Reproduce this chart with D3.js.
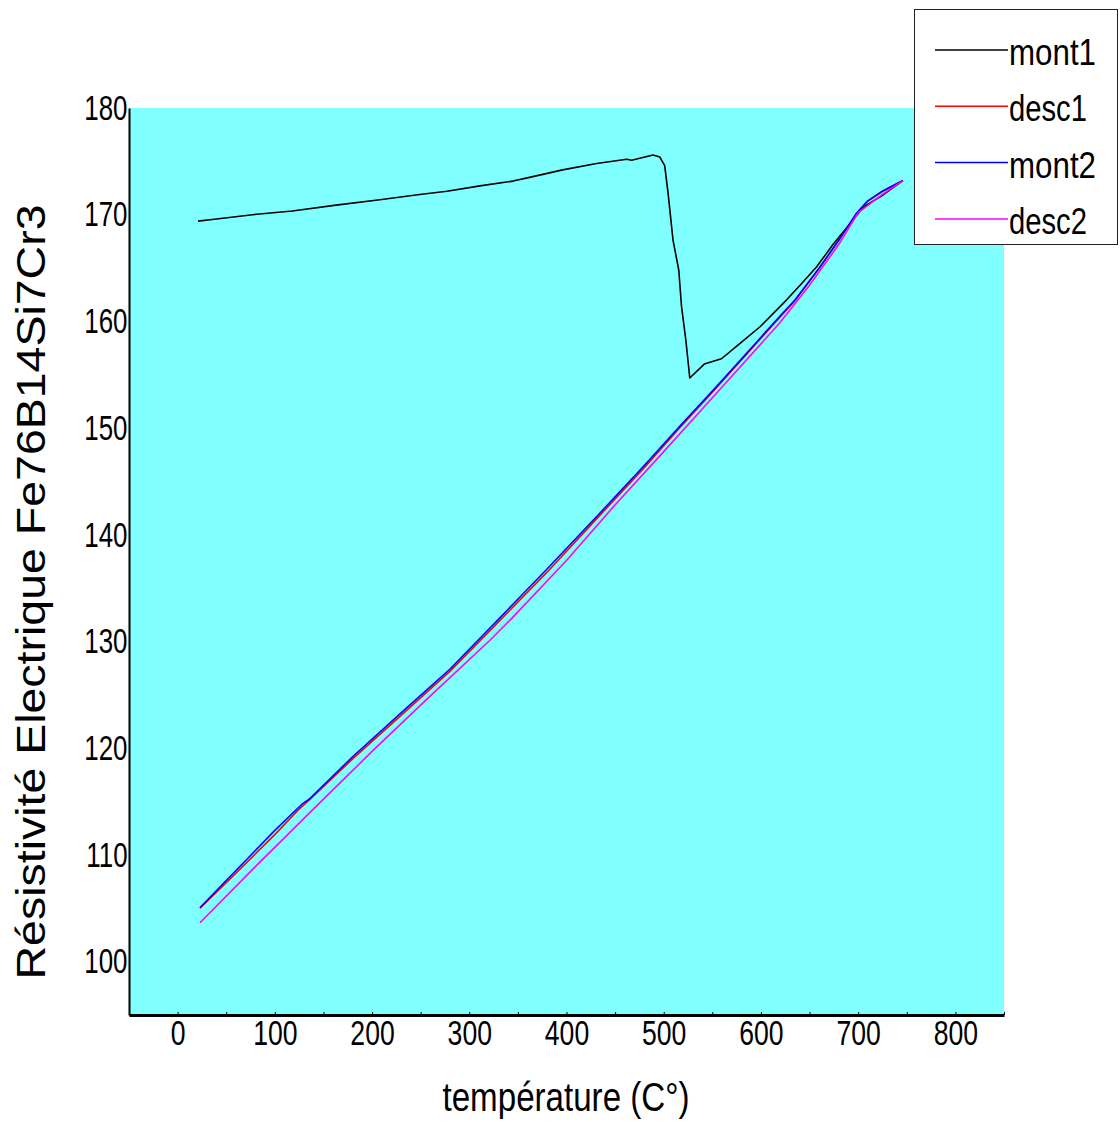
<!DOCTYPE html>
<html>
<head>
<meta charset="utf-8">
<script src="https://cdn.jsdelivr.net/npm/d3@7"></script>
<style>
    body { margin: 0; background: #fff; }
    svg { display: block; }
    text { font-family: "Liberation Sans", Arial, sans-serif; fill: #000; }
</style>
</head>
<body>
<div class="graph"></div>
<script>
"use strict";

// temperature (C) / resistivity readings for each run
var mont1T = [21, 40, 77, 118, 163, 208, 249, 277, 311, 345, 362, 396, 431, 462, 467, 489, 496, 501,
    504.5, 509.6, 515.5, 518.3, 522.7, 526.8, 541.7, 559.4, 578.5, 599.1, 626.2, 643.3, 657.1, 674.1,
    694.7, 701.6, 708.5, 725.6, 746];
var mont1R = [169.4, 169.6, 170.0, 170.35, 170.9, 171.4, 171.9, 172.2, 172.7, 173.15, 173.5, 174.2,
    174.8, 175.2, 175.1, 175.6, 175.4, 174.6, 172.0, 167.6, 164.8, 161.4, 158.3, 154.7, 156.0, 156.5,
    157.95, 159.5, 162.0, 163.7, 165.1, 167.2, 169.5, 170.3, 170.9, 171.85, 173.2];

var desc1T = [23, 50, 100, 125, 135, 180, 235, 280, 321, 380, 434, 480, 516, 551, 585, 619, 635, 660, 680, 699, 710, 725, 746];
var desc1R = [105.0, 107.4, 111.9, 114.3, 115.1, 119.0, 123.5, 127.2, 131.0, 136.5, 141.8, 146.3, 150.0, 153.45, 156.9,
    160.35, 161.95, 165.0, 167.6, 170.2, 171.3, 172.2, 173.2];

var mont2T = [23, 50, 100, 129, 135, 180, 235, 280, 321, 330, 380, 434, 480, 516, 551, 585, 619, 635, 660, 680, 698, 710, 725, 746];
var mont2R = [105.05, 107.6, 112.3, 114.84, 115.2, 119.2, 123.74, 127.4, 131.24, 132.08, 136.8, 142.0, 146.5, 150.13, 153.57,
    157.0, 160.44, 162.0, 165.0, 167.6, 170.1, 171.3, 172.2, 173.2];

var desc2T = [23, 80, 143, 200, 260, 321, 343, 400, 448, 500, 551, 619, 650, 680, 700, 725, 746];
var desc2R = [103.65, 108.9, 114.6, 119.7, 124.9, 130.1, 132.1, 137.6, 142.6, 147.8, 152.94, 159.82, 163.4, 167.2, 170.2, 171.9, 173.2];

var seriesNames = ["mont1", "desc1", "mont2", "desc2"];
var seriesColors = ["#000000", "#ff0000", "#0000ff", "#ff00ff"];

var xTicks = [-50, 0, 50, 100, 150, 200, 250, 300, 350, 400, 450, 500, 550, 600, 650, 700, 750, 800, 850];
var xLabels = [0, 100, 200, 300, 400, 500, 600, 700, 800];
var yTicks = [100, 110, 120, 130, 140, 150, 160, 170, 180];

var series = [[mont1T, mont1R], [desc1T, desc1R], [mont2T, mont2R], [desc2T, desc2R]].map(function (s, i) {
    return {
        name: seriesNames[i],
        color: seriesColors[i],
        points: s[0].map(function (t, j) { return [t, s[1][j]]; })
    };
});

var W = 1120, H = 1122;
var svg = d3.select(".graph").append("svg").attr("width", W).attr("height", H);

var x = d3.scaleLinear().domain([-50, 850]).range([129, 1004]);
var y = d3.scaleLinear().domain([95, 180]).range([1015, 108]);

svg.append("rect")
    .attr("x", x(-50)).attr("y", y(180))
    .attr("width", x(850) - x(-50)).attr("height", y(95) - y(180))
    .attr("fill", "#80ffff");

svg.append("clipPath").attr("id", "plot").append("rect")
    .attr("x", x(-50)).attr("y", y(180))
    .attr("width", x(850) - x(-50)).attr("height", y(95) - y(180));

var line = d3.line().x(function (d) { return x(d[0]); }).y(function (d) { return y(d[1]); });

svg.append("g").attr("clip-path", "url(#plot)")
    .selectAll("path").data(series).enter().append("path")
    .attr("d", function (d) { return line(d.points); })
    .attr("fill", "none")
    .attr("stroke", function (d) { return d.color; })
    .attr("stroke-width", 1.6)
    .attr("stroke-linejoin", "round");

// x axis
var xAxis = svg.append("g").attr("transform", "translate(0," + y(95) + ")")
    .call(d3.axisBottom(x).tickValues(xTicks).tickSize(-3).tickSizeOuter(0).tickPadding(5)
        .tickFormat(function (d) { return xLabels.indexOf(d) >= 0 ? d : ""; }));
xAxis.select(".domain").attr("stroke", "#000").attr("stroke-width", 3);
xAxis.selectAll(".tick line").attr("stroke", "#000").attr("stroke-width", 1);
xAxis.selectAll("text").attr("font-size", 35).attr("font-family", null)
    .attr("transform", "scale(0.76,1)");

// y axis
var yAxis = svg.append("g").attr("transform", "translate(" + x(-50) + ",0)")
    .call(d3.axisLeft(y).tickValues(yTicks).tickSize(0).tickSizeOuter(0).tickPadding(2));
yAxis.select(".domain").attr("stroke", "#000").attr("stroke-width", 2);
yAxis.selectAll("text").attr("font-size", 35).attr("font-family", null)
    .attr("transform", "scale(0.74,1)");

// axis titles
svg.append("text")
    .attr("x", 566).attr("y", 1111)
    .attr("text-anchor", "middle")
    .attr("font-size", 40)
    .attr("textLength", 247).attr("lengthAdjust", "spacingAndGlyphs")
    .text("température (C°)");

svg.append("text")
    .attr("transform", "translate(45,592) rotate(-90)")
    .attr("text-anchor", "middle")
    .attr("font-size", 41)
    .attr("textLength", 775).attr("lengthAdjust", "spacingAndGlyphs")
    .text("Résistivité Electrique Fe76B14Si7Cr3");

// legend
var legend = svg.append("g");
legend.append("rect")
    .attr("x", 914.5).attr("y", 9.5).attr("width", 203).attr("height", 235)
    .attr("fill", "#fff").attr("stroke", "#222").attr("stroke-width", 1);

var entry = legend.selectAll("g.entry").data(series).enter().append("g")
    .attr("class", "entry")
    .attr("transform", function (d, i) { return "translate(0," + (50 + i * 56.3) + ")"; });
entry.append("line")
    .attr("x1", 935).attr("x2", 1008).attr("y1", 0).attr("y2", 0)
    .attr("stroke", function (d) { return d.color; })
    .attr("stroke-width", 1.5);
entry.append("text")
    .attr("x", 1009).attr("y", 15)
    .attr("font-size", 36)
    .attr("textLength", function (d) { return d.name.indexOf("mont") === 0 ? 87 : 78; })
    .attr("lengthAdjust", "spacingAndGlyphs")
    .text(function (d) { return d.name; });
</script>
</body>
</html>
